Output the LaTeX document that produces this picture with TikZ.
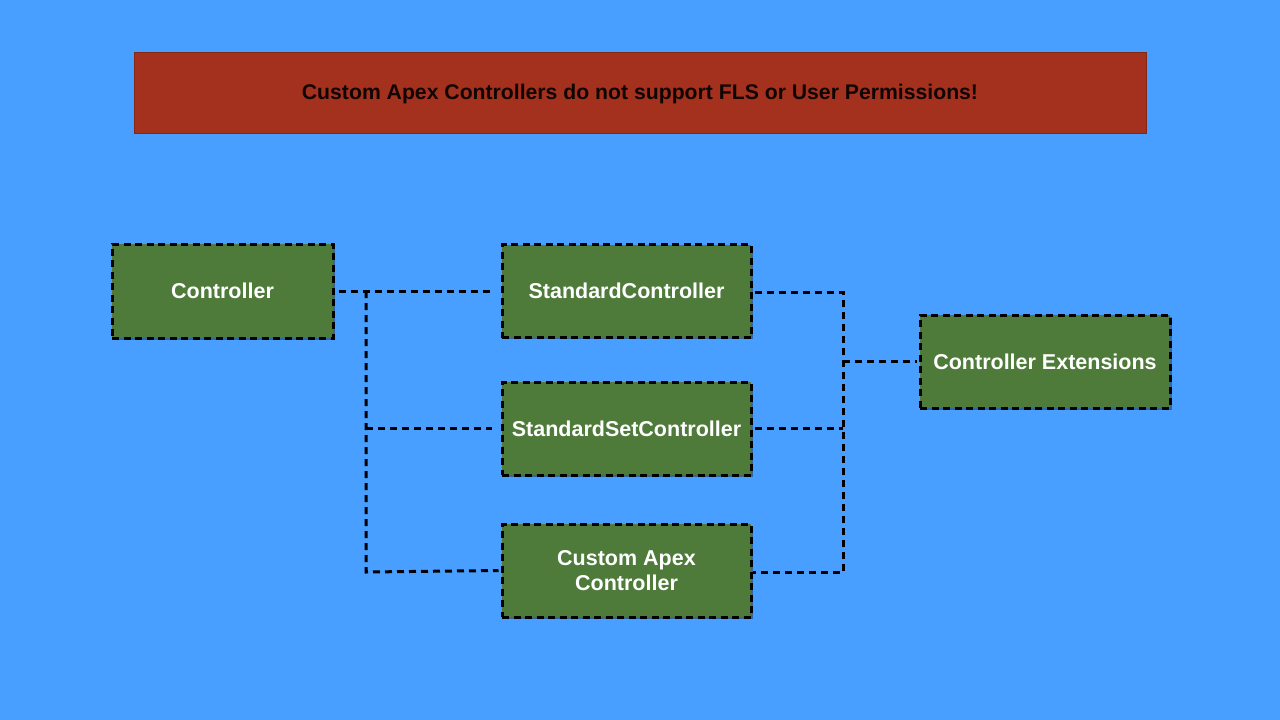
\documentclass[tikz,border=0pt]{standalone}
\usepackage{fontspec}
\setmainfont{Liberation Sans}
\usetikzlibrary{shadows}
\definecolor{bgblue}{RGB}{73,159,255}
\definecolor{bannerred}{RGB}{163,49,30}
\definecolor{boxgreen}{RGB}{78,122,58}
\begin{document}
\begin{tikzpicture}[x=1pt,y=-1pt,
  gbox/.style={draw=black, fill=boxgreen, line width=3pt, dash pattern=on 7pt off 4.5pt,
    minimum width=249pt, minimum height=93pt, inner sep=0pt, text=white,
    font=\fontsize{21.5}{25.5}\selectfont\bfseries, align=center,
    drop shadow={shadow xshift=1.5pt, shadow yshift=-1.5pt, opacity=0.35, fill=black}},
  conn/.style={draw=black, line width=3pt, dash pattern=on 7pt off 5pt},
  banner/.style={fill=bannerred, draw=bannerred!80!black, line width=0.6pt,
    minimum width=1012pt, minimum height=81pt, inner sep=0pt,
    text height=14pt, text depth=-1pt,
    font=\fontsize{21.2}{25}\selectfont\bfseries, text=black!90!bannerred}]
\fill[bgblue] (0,0) rectangle (1280,720);
\useasboundingbox (0,0) rectangle (1280,720);
\node[banner] (warn) at (640,92.5) {Custom Apex Controllers do not support FLS or User Permissions!};
\node[gbox, minimum width=221pt, minimum height=94pt] (ctrl) at (222.5,291) {Controller};
\node[gbox] (std) at (626.5,291) {StandardController};
\node[gbox] (stdset) at (626.5,428.5) {StandardSetController};
\node[gbox] (cust) at (626.5,570.5) {Custom Apex\\Controller};
\node[gbox, minimum width=250pt] (ext) at (1045,361.5) {Controller Extensions};
\coordinate (lt) at (366,291);
\coordinate (lb) at (366,572);
\coordinate (rt) at (843,292);
\coordinate (rb) at (843,572);
\draw[conn, shorten >=9pt, shorten <=4pt] (ctrl.east) -- (std.west);
\draw[conn, shorten >=2pt] (lt) -- (lb) -- (cust.west);
\draw[conn, shorten >=9pt] (lt |- stdset.west) -- (stdset.west);
\draw[conn, shorten <=2pt] (std.east |- rt) -- (rt) -- (rb) -- (cust.east |- rb);
\draw[conn, shorten <=2pt] (stdset.east) -- (rt |- stdset.east);
\draw[conn, shorten >=2pt] (rt |- ext.west) -- (ext.west);
\end{tikzpicture}
\end{document}
